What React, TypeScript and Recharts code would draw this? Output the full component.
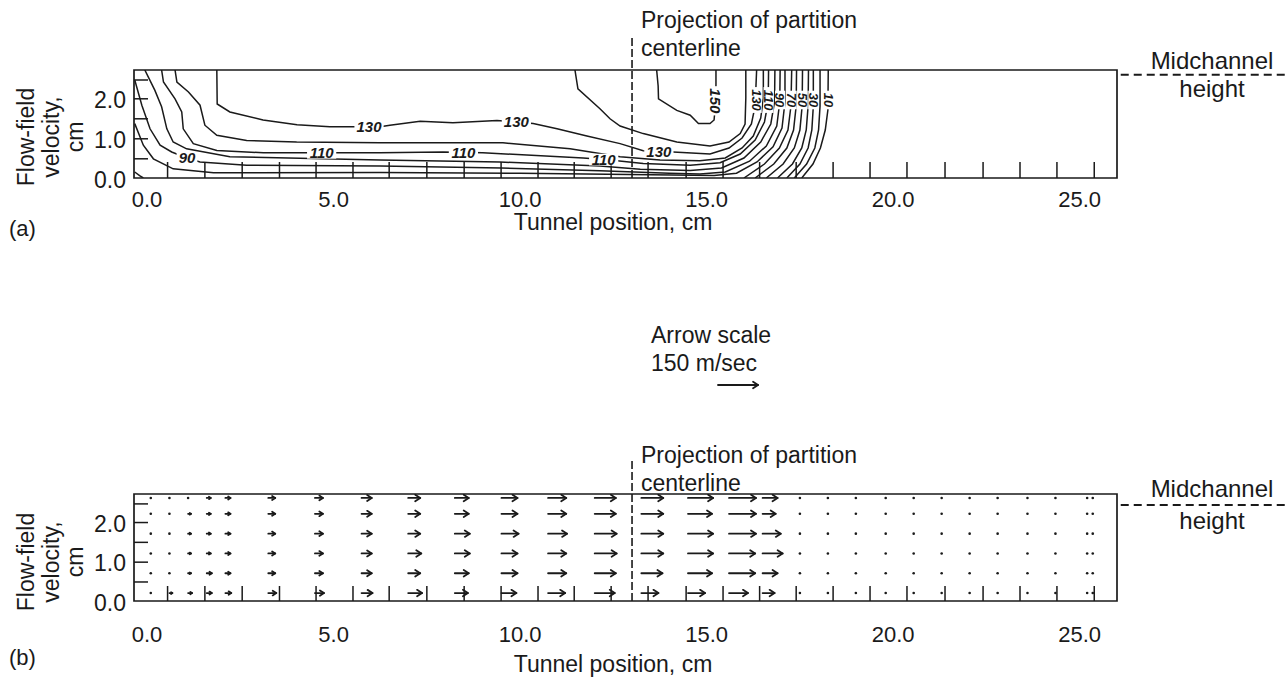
import React from "react";
import {
  ComposedChart,
  Line,
  Scatter,
  XAxis,
  YAxis,
  ReferenceArea,
  ReferenceLine,
} from "recharts";

type Pt = [number, number];

const FONT = '"Liberation Sans", Arial, Helvetica, sans-serif';
const INK = "#1a1a1a";

const X_TICKS = [0, 5, 10, 15, 20, 25];
const Y_TICKS = [0, 1, 2];
const X_DOMAIN: [number, number] = [-0.35, 26.0];
const Y_DOMAIN: [number, number] = [0, 2.7];
const PARTITION_X = 13.0;

// probe mesh marks along the floor and the inlet wall (cm)
const MESH_X = [
  0.55, 1.55, 2.55, 3.55, 4.53, 5.52, 6.49, 7.5, 8.5, 9.49, 10.48, 11.45, 12.44,
  13.43, 14.45, 15.44, 16.42, 17.4, 18.39, 19.38, 20.37, 21.39, 22.41, 23.4,
  24.39, 25.39,
];
const MESH_Y = [0.48, 0.98, 1.48, 1.98, 2.45];

// (a) velocity contours, m/sec -- points are [tunnel position cm, height cm]
const C150: Pt[] = [[13.66, 2.7], [13.7, 2.3], [13.71, 1.98], [14.2, 1.69], [14.56, 1.57], [14.78, 1.36], [15.09, 1.36], [15.2, 1.45], [15.24, 1.9], [15.25, 2.35], [15.25, 2.7]];
const C140: Pt[] = [[11.47, 2.7], [11.55, 2.23], [12.14, 1.73], [12.41, 1.48], [12.68, 1.3], [13.3, 1.11], [14.2, 0.9], [15.09, 0.8], [15.6, 0.9], [15.9, 1.11], [16.03, 1.35], [16.05, 2.0], [16.05, 2.7]];
const C130: Pt[] = [[1.87, 2.7], [1.88, 1.85], [2.22, 1.65], [3.11, 1.45], [4.02, 1.33], [4.9, 1.28], [6.25, 1.28], [6.51, 1.32], [7.32, 1.42], [8.2, 1.38], [9.38, 1.44], [10.35, 1.36], [10.99, 1.23], [11.79, 1.05], [12.68, 0.86], [13.3, 0.68], [14.1, 0.65], [15.09, 0.6], [15.6, 0.75], [15.95, 1.0], [16.2, 1.35], [16.3, 1.8], [16.34, 2.7]];
const C120: Pt[] = [[0.75, 2.7], [0.8, 2.4], [1.11, 2.15], [1.42, 1.82], [1.55, 1.32], [1.87, 1.07], [2.67, 0.94], [4.01, 0.9], [6.25, 0.88], [9.54, 0.88], [11.34, 0.73], [12.68, 0.53], [13.75, 0.45], [14.82, 0.43], [15.5, 0.5], [15.95, 0.75], [16.25, 1.05], [16.45, 1.5], [16.52, 2.0], [16.52, 2.7]];
const C110: Pt[] = [[0.39, 2.7], [0.44, 2.4], [0.75, 1.98], [0.93, 1.65], [0.97, 1.23], [1.24, 0.86], [1.87, 0.69], [3.12, 0.63], [6.25, 0.63], [7.93, 0.65], [9.0, 0.63], [11.69, 0.5], [12.41, 0.45], [13.3, 0.36], [14.56, 0.32], [15.36, 0.38], [15.9, 0.6], [16.3, 0.95], [16.55, 1.4], [16.65, 1.9], [16.66, 2.7]];
const C100: Pt[] = [[-0.06, 2.7], [0.21, 2.19], [0.39, 1.78], [0.53, 1.23], [0.7, 0.9], [1.06, 0.73], [2.22, 0.53], [6.25, 0.45], [9.46, 0.4], [12.14, 0.3], [13.22, 0.22], [14.56, 0.19], [15.4, 0.25], [16.0, 0.5], [16.45, 0.9], [16.72, 1.35], [16.82, 1.9], [16.83, 2.7]];
const C90: Pt[] = [[-0.33, 2.45], [-0.14, 1.82], [0.08, 1.23], [0.35, 0.82], [0.66, 0.65], [1.07, 0.5], [1.42, 0.4], [2.67, 0.32], [6.25, 0.3], [9.5, 0.25], [12.14, 0.18], [14.0, 0.12], [14.82, 0.1], [15.5, 0.15], [16.15, 0.42], [16.6, 0.8], [16.88, 1.3], [16.96, 1.9], [16.97, 2.7]];
const C80: Pt[] = [[-0.33, 1.36], [-0.1, 0.82], [0.17, 0.48], [0.7, 0.23], [1.78, 0.13], [6.25, 0.14], [10.0, 0.12], [13.5, 0.08], [15.2, 0.06], [15.8, 0.12], [16.35, 0.4], [16.78, 0.78], [17.02, 1.25], [17.1, 1.9], [17.1, 2.7]];
const C70_CORNER: Pt[] = [[-0.33, 0.15], [-0.2, 0.06], [-0.1, 0.0]];
const C70: Pt[] = [[16.0, 0], [16.55, 0.35], [16.95, 0.75], [17.18, 1.2], [17.26, 1.8], [17.28, 2.7]];
const C60: Pt[] = [[16.3, 0], [16.8, 0.35], [17.15, 0.75], [17.33, 1.2], [17.4, 1.8], [17.41, 2.7]];
const C50: Pt[] = [[16.6, 0], [17.05, 0.35], [17.35, 0.75], [17.5, 1.2], [17.56, 1.8], [17.57, 2.7]];
const C40: Pt[] = [[16.9, 0], [17.3, 0.35], [17.55, 0.75], [17.67, 1.2], [17.72, 1.8], [17.73, 2.7]];
const C30: Pt[] = [[17.15, 0], [17.5, 0.35], [17.72, 0.75], [17.82, 1.2], [17.86, 1.8], [17.86, 2.7]];
const C20: Pt[] = [[17.35, 0], [17.68, 0.35], [17.9, 0.75], [18.0, 1.2], [18.04, 1.8], [18.04, 2.7]];
const C10: Pt[] = [[17.55, 0], [17.85, 0.35], [18.05, 0.75], [18.18, 1.2], [18.25, 1.7], [18.26, 2.7]];

const CONTOURS: Pt[][] = [C150, C140, C130, C120, C110, C100, C90, C80, C70_CORNER, C70, C60, C50, C40, C30, C20, C10];

const CONTOUR_LABELS = [
  { x: 5.95, y: 1.28, text: "130" },
  { x: 9.9, y: 1.4, text: "130" },
  { x: 13.72, y: 0.66, text: "130" },
  { x: 4.68, y: 0.63, text: "110" },
  { x: 8.48, y: 0.64, text: "110" },
  { x: 12.24, y: 0.46, text: "110" },
  { x: 1.07, y: 0.5, text: "90" },
  { x: 15.23, y: 1.93, text: "150", rot: 90 },
  { x: 16.34, y: 1.95, text: "130", rot: 90, size: 13 },
  { x: 16.66, y: 1.95, text: "110", rot: 90, size: 13 },
  { x: 16.97, y: 1.95, text: "90", rot: 90, size: 13 },
  { x: 17.28, y: 1.95, text: "70", rot: 90, size: 13 },
  { x: 17.57, y: 1.95, text: "50", rot: 90, size: 13 },
  { x: 17.86, y: 1.95, text: "30", rot: 90, size: 13 },
  { x: 18.26, y: 1.95, text: "10", rot: 90, size: 13 },
];

// (b) velocity vectors, m/sec, one row per height
const VEC_X = [0.1, 0.6, 1.1, 1.6, 2.1, 3.25, 4.5, 5.75, 7.0, 8.25, 9.5, 10.75, 12.0, 13.25, 14.5, 15.6, 16.5, 17.5, 18.25, 19.0, 19.8, 20.55, 21.3, 22.05, 22.8, 23.6, 24.35, 25.2, 25.35];
const VEC_Y = [2.6, 2.2, 1.7, 1.2, 0.7, 0.2];
const V_ROW_1 = [0, 8, 8, 15, 19, 26, 30, 38, 45, 52, 60, 68, 79, 82, 94, 101, 56, 0, 0, 0, 0, 0, 0, 0, 0, 0, 0, 0, 0];
const V_ROW_2 = [0, 8, 11, 15, 19, 26, 30, 38, 45, 52, 60, 68, 79, 82, 90, 101, 49, 0, 0, 0, 0, 0, 0, 0, 0, 0, 0, 0, 0];
const V_ROW_3 = [0, 8, 11, 15, 19, 26, 30, 38, 45, 56, 64, 71, 82, 82, 94, 101, 68, 0, 0, 0, 0, 0, 0, 0, 0, 0, 0, 0, 0];
const V_ROW_4 = [0, 8, 11, 15, 19, 26, 30, 38, 49, 56, 60, 68, 82, 82, 94, 98, 75, 0, 0, 0, 0, 0, 0, 0, 0, 0, 0, 0, 0];
const V_ROW_5 = [0, 8, 11, 19, 19, 26, 30, 38, 45, 52, 60, 68, 79, 79, 90, 98, 56, 0, 0, 0, 0, 0, 0, 0, 0, 0, 0, 0, 0];
const V_ROW_6 = [0, 11, 15, 19, 22, 30, 34, 41, 52, 49, 56, 64, 75, 64, 64, 71, 45, 0, 0, 0, 0, 0, 0, 0, 0, 0, 0, 0, 0];
const V_ROWS = [V_ROW_1, V_ROW_2, V_ROW_3, V_ROW_4, V_ROW_5, V_ROW_6];

const SCALE_SPEED = 150;
const PX_PER_MS = 0.267; // arrow length in px per m/sec

const vectorData = V_ROWS.flatMap((row, r) =>
  row.map((v, c) => ({ x: VEC_X[c], y: VEC_Y[r], v }))
);
const meshFloor = MESH_X.map((x) => ({ x, y: 0 }));
const meshWall = MESH_Y.map((y) => ({ x: X_DOMAIN[0], y }));

function VectorGlyph({ x, y, v }: { x: number; y: number; v: number }) {
  const len = v * PX_PER_MS;
  if (len < 2.5) return <circle cx={x} cy={y} r={1.3} fill={INK} />;
  const head = Math.min(5, len * 0.45);
  return (
    <g stroke={INK} strokeWidth={1.8} fill="none" strokeLinecap="round" strokeLinejoin="round">
      <line x1={x} y1={y} x2={x + len} y2={y} />
      <polyline
        points={`${x + len - head},${y - head * 0.65} ${x + len},${y} ${x + len - head},${y + head * 0.65}`}
      />
    </g>
  );
}

function ContourLabel(p: any) {
  const { cx, cy, payload } = p;
  const size = payload.size || 15;
  const rot = payload.rot || 0;
  const w = payload.text.length * size * 0.56 + 4;
  const h = size * 0.78;
  return (
    <g transform={`translate(${cx},${cy}) rotate(${rot})`}>
      <rect x={-w / 2} y={-h / 2} width={w} height={h} fill="#fff" />
      <text
        x={0}
        y={0}
        dy="0.36em"
        textAnchor="middle"
        fontSize={size}
        fontStyle="italic"
        fontWeight={700}
        fontFamily={FONT}
        fill={INK}
      >
        {payload.text}
      </text>
    </g>
  );
}

const makeXTick = (off: number) => (p: any) => (
  <text x={p.x} y={p.y + off} textAnchor="middle" fontSize={22} fontFamily={FONT} fill={INK}>
    {Number(p.payload.value).toFixed(1)}
  </text>
);

const YTick = (p: any) => (
  <text x={p.x - 8} y={p.y + 10} textAnchor="end" fontSize={23} fontFamily={FONT} fill={INK}>
    {Number(p.payload.value).toFixed(1)}
  </text>
);

function PanelA() {
  return (
    <ComposedChart width={1288} height={250} margin={{ top: 70, right: 171, bottom: 42, left: 94 }}>
      <XAxis
        dataKey="x"
        type="number"
        domain={X_DOMAIN}
        ticks={X_TICKS}
        interval={0}
        allowDataOverflow
        axisLine={false}
        tickLine={false}
        tickSize={0}
        tickMargin={0}
        height={30}
        tick={makeXTick(29)}
      />
      <YAxis
        type="number"
        domain={Y_DOMAIN}
        ticks={Y_TICKS}
        interval={0}
        allowDataOverflow
        axisLine={false}
        tickLine={false}
        tickSize={0}
        tickMargin={0}
        width={40}
        tick={YTick}
      />
      <ReferenceArea x1={X_DOMAIN[0]} x2={X_DOMAIN[1]} y1={0} y2={2.7} fill="none" stroke={INK} strokeWidth={1.7} ifOverflow="visible" />
      {CONTOURS.map((c, i) => (
        <Line
          key={"c" + i}
          data={c.map(([x, y]) => ({ x, y }))}
          dataKey="y"
          type="linear"
          stroke={INK}
          strokeWidth={1.5}
          dot={false}
          activeDot={false}
          isAnimationActive={false}
        />
      ))}
      <Scatter
        data={meshFloor}
        dataKey="y"
        isAnimationActive={false}
        shape={(p: any) => <line x1={p.cx} y1={p.cy} x2={p.cx} y2={p.cy - 16} stroke={INK} strokeWidth={1.5} />}
      />
      <Scatter
        data={meshWall}
        dataKey="y"
        isAnimationActive={false}
        shape={(p: any) => <line x1={p.cx} y1={p.cy} x2={p.cx + 14} y2={p.cy} stroke={INK} strokeWidth={1.5} />}
      />
      <Scatter data={CONTOUR_LABELS} dataKey="y" isAnimationActive={false} shape={(p: any) => <ContourLabel {...p} />} />
      <ReferenceLine
        segment={[{ x: PARTITION_X, y: 0 }, { x: PARTITION_X, y: 3.5 }]}
        stroke={INK}
        strokeWidth={1.6}
        strokeDasharray="8 3"
        ifOverflow="visible"
      />
      <ReferenceLine
        segment={[{ x: 26.1, y: 2.58 }, { x: 30.7, y: 2.58 }]}
        stroke={INK}
        strokeWidth={2}
        strokeDasharray="8 5"
        ifOverflow="visible"
      />
    </ComposedChart>
  );
}

function PanelB() {
  return (
    <ComposedChart width={1288} height={377} margin={{ top: 194, right: 171, bottom: 46, left: 94 }}>
      <XAxis
        dataKey="x"
        type="number"
        domain={X_DOMAIN}
        ticks={X_TICKS}
        interval={0}
        allowDataOverflow
        axisLine={false}
        tickLine={false}
        tickSize={0}
        tickMargin={0}
        height={30}
        tick={makeXTick(41)}
      />
      <YAxis
        type="number"
        domain={Y_DOMAIN}
        ticks={Y_TICKS}
        interval={0}
        allowDataOverflow
        axisLine={false}
        tickLine={false}
        tickSize={0}
        tickMargin={0}
        width={40}
        tick={YTick}
      />
      <ReferenceArea x1={X_DOMAIN[0]} x2={X_DOMAIN[1]} y1={0} y2={2.7} fill="none" stroke={INK} strokeWidth={1.7} ifOverflow="visible" />
      <Scatter
        data={meshFloor}
        dataKey="y"
        isAnimationActive={false}
        shape={(p: any) => <line x1={p.cx} y1={p.cy} x2={p.cx} y2={p.cy - 15} stroke={INK} strokeWidth={1.5} />}
      />
      <Scatter
        data={meshWall}
        dataKey="y"
        isAnimationActive={false}
        shape={(p: any) => <line x1={p.cx} y1={p.cy} x2={p.cx + 14} y2={p.cy} stroke={INK} strokeWidth={1.5} />}
      />
      <Scatter
        data={vectorData}
        dataKey="y"
        isAnimationActive={false}
        shape={(p: any) => <VectorGlyph x={p.cx} y={p.cy} v={p.payload.v} />}
      />
      <ReferenceLine
        segment={[{ x: PARTITION_X, y: 0 }, { x: PARTITION_X, y: 3.6 }]}
        stroke={INK}
        strokeWidth={1.6}
        strokeDasharray="8 3"
        ifOverflow="visible"
      />
      <ReferenceLine
        segment={[{ x: 26.1, y: 2.42 }, { x: 30.7, y: 2.42 }]}
        stroke={INK}
        strokeWidth={2}
        strokeDasharray="8 5"
        ifOverflow="visible"
      />
    </ComposedChart>
  );
}

function Txt(props: {
  x: number;
  y: number;
  size?: number;
  center?: boolean;
  rotate?: boolean;
  children: React.ReactNode;
}) {
  const { x, y, size = 23, center, rotate } = props;
  let transform = "translateY(-50%)";
  if (center) transform = "translate(-50%,-50%)";
  if (rotate) transform = "translate(-50%,-50%) rotate(-90deg)";
  return (
    <div
      style={{
        position: "absolute",
        left: x,
        top: y,
        transform,
        fontSize: size,
        lineHeight: 0.88,
        whiteSpace: "nowrap",
        fontFamily: FONT,
        color: INK,
      }}
    >
      {props.children}
    </div>
  );
}

function YTitle({ cy }: { cy: number }) {
  return (
    <>
      <Txt x={26} y={cy} size={23} rotate>Flow-field</Txt>
      <Txt x={51} y={cy} size={23} rotate>velocity,</Txt>
      <Txt x={75} y={cy} size={23} rotate>cm</Txt>
    </>
  );
}

export default function App() {
  return (
    <div style={{ position: "absolute", left: 0, top: 0, width: 1288, height: 677, background: "#fff", overflow: "hidden" }}>
      <div style={{ position: "absolute", left: 0, top: 0 }}>
        <PanelA />
      </div>
      <div style={{ position: "absolute", left: 0, top: 300 }}>
        <PanelB />
      </div>

      {/* panel (a) annotations */}
      <Txt x={641} y={20}>Projection of partition</Txt>
      <Txt x={641} y={48}>centerline</Txt>
      <Txt x={1212} y={61} center size={24}>Midchannel</Txt>
      <Txt x={1212} y={89} center size={24}>height</Txt>
      <Txt x={613} y={222} center>Tunnel position, cm</Txt>
      <Txt x={9} y={229} size={22}>(a)</Txt>
      <YTitle cy={137} />

      {/* panel (b) annotations */}
      <Txt x={651} y={335}>Arrow scale</Txt>
      <Txt x={651} y={363}>150 m/sec</Txt>
      <svg style={{ position: "absolute", left: 712, top: 377 }} width={56} height={16}>
        <VectorGlyph x={6} y={8} v={SCALE_SPEED} />
      </svg>
      <Txt x={641} y={455}>Projection of partition</Txt>
      <Txt x={641} y={483}>centerline</Txt>
      <Txt x={1212} y={489} center size={24}>Midchannel</Txt>
      <Txt x={1212} y={521} center size={24}>height</Txt>
      <Txt x={613} y={664} center>Tunnel position, cm</Txt>
      <Txt x={9} y={658} size={22}>(b)</Txt>
      <YTitle cy={562} />
    </div>
  );
}
